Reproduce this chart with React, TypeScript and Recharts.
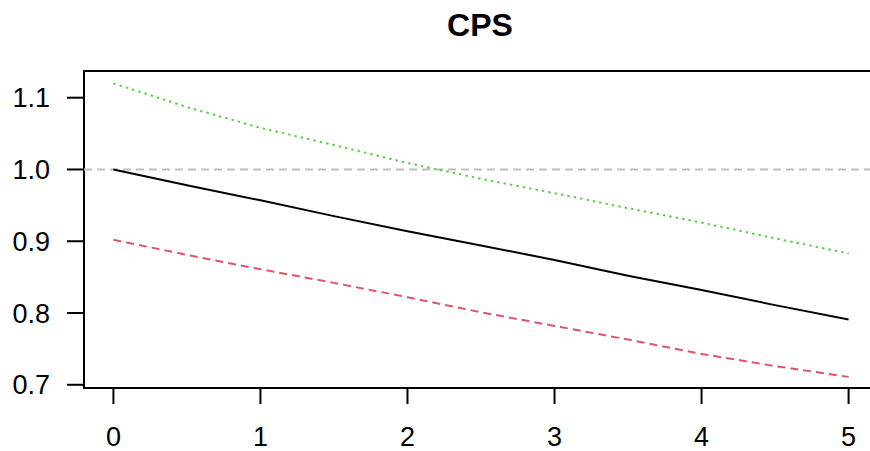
import React from 'react';
import {
    LineChart, Line, XAxis, YAxis, ReferenceLine, ReferenceArea
} from 'recharts';

// values
const xs = [0, 0.5, 1, 1.5, 2, 2.5, 3, 3.5, 4, 4.5, 5];
const estimate = [1.0, 0.978, 0.957, 0.935, 0.914, 0.894, 0.874, 0.852, 0.832, 0.811, 0.791];
const lower = [0.902, 0.881, 0.861, 0.842, 0.822, 0.801, 0.782, 0.763, 0.743, 0.726, 0.711];
const upper = [1.12, 1.087, 1.058, 1.034, 1.009, 0.987, 0.967, 0.946, 0.926, 0.904, 0.883];

const xTicks = [0, 1, 2, 3, 4, 5];
const yTicks = [0.7, 0.8, 0.9, 1.0, 1.1];

const data = xs.map((x, i) => ({
    x,
    est: estimate[i],
    lo: lower[i],
    hi: upper[i],
}));

const font = '"Liberation Sans", Arial, sans-serif';
const tickStyle = { fontFamily: font, fontSize: 27, fill: '#000' };

export default function App() {
    // the original figure is cut off on the right, so the plot box runs past the frame
    return (
        <div style={{ position: 'absolute', left: 0, top: 0, width: 870, height: 451, overflow: 'hidden', background: '#fff' }}>
            <LineChart
                width={882}
                height={451}
                data={data}
                margin={{ top: 71, right: 4, bottom: 13, left: 14 }}
            >
                <XAxis
                    dataKey="x"
                    type="number"
                    domain={[-0.2, 5.2]}
                    ticks={xTicks}
                    allowDataOverflow
                    height={50}
                    tickSize={16}
                    tickMargin={23}
                    axisLine={false}
                    tickLine={{ stroke: '#000', strokeWidth: 2 }}
                    tick={tickStyle}
                    tickFormatter={(v: number) => String(v)}
                />
                <YAxis
                    type="number"
                    domain={[0.6955, 1.1372]}
                    ticks={yTicks}
                    allowDataOverflow
                    width={70}
                    tickSize={17}
                    tickMargin={17}
                    axisLine={false}
                    tickLine={{ stroke: '#000', strokeWidth: 2 }}
                    tick={tickStyle}
                    tickFormatter={(v: number) => v.toFixed(1)}
                />
                <ReferenceLine y={1} stroke="#bebebe" strokeWidth={2} strokeDasharray="8 5" />
                <Line dataKey="est" stroke="#000" strokeWidth={2} dot={false} isAnimationActive={false} />
                <Line dataKey="lo" stroke="#df536b" strokeWidth={2} strokeDasharray="8 5" dot={false} isAnimationActive={false} />
                <Line dataKey="hi" stroke="#61d04f" strokeWidth={2} strokeDasharray="2.5 4" dot={false} isAnimationActive={false} />
                <ReferenceArea
                    x1={-0.2}
                    x2={5.2}
                    y1={0.6955}
                    y2={1.1372}
                    fill="none"
                    stroke="#000"
                    strokeWidth={2}
                    ifOverflow="extendDomain"
                />
            </LineChart>
            <svg width={870} height={451} style={{ position: 'absolute', left: 0, top: 0, pointerEvents: 'none' }}>
                <text x={480} y={36} textAnchor="middle" fontFamily={font} fontSize={32} fontWeight="bold" fill="#000">
                    CPS
                </text>
            </svg>
        </div>
    );
}
